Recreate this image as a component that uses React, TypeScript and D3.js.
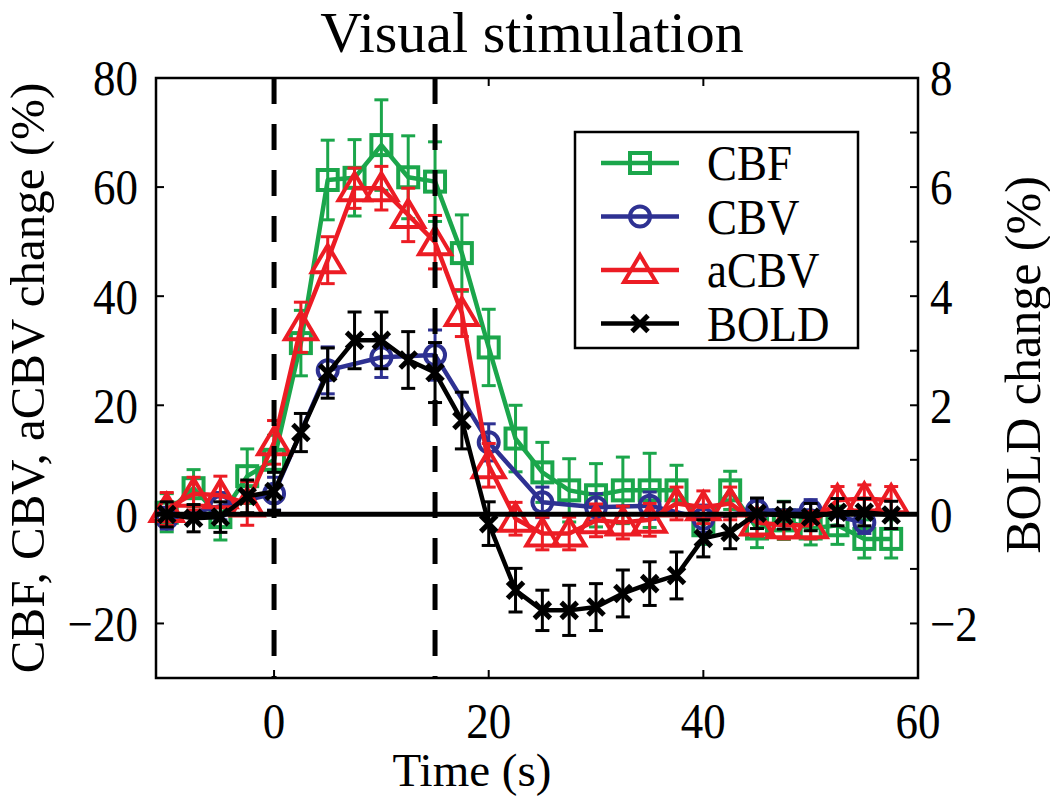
import * as d3 from "d3";

// time points (s)
const timeFast = [-10, -7.5, -5, -2.5, 0, 2.5, 5, 7.5, 10, 12.5, 15, 17.5, 20, 22.5, 25, 27.5, 30, 32.5, 35, 37.5, 40, 42.5, 45, 47.5, 50, 52.5, 55, 57.5];
const timeCBV = [-10, -5, 0, 5, 10, 15, 20, 25, 30, 35, 40, 45, 50, 55];

// left axis series (%)
const cbf = [0.3, 4.8, -0.5, 7, 10, 31.4, 61.3, 61.7, 67.7, 61.8, 61, 47.9, 30.6, 13.9, 7.7, 4.4, 3.5, 4.4, 4.4, 4.4, -2, 4.4, -2.6, -1.1, -2.6, -2, -4.5, -4.5];
const cbfErr = [3.5, 3.4, 4.2, 5, 4.5, 6, 7.3, 7, 8.3, 7.6, 7.3, 7, 7, 6.1, 5.5, 5.8, 5.8, 6.1, 6.8, 4.6, 3.5, 3.5, 3.5, 3.5, 3, 3.5, 3.5, 3.5];
const cbv = [-0.7, 1.5, 3.8, 26.4, 28.8, 29.2, 13.2, 2.2, 1.3, 1.6, -0.8, 0.7, 0.7, -1.5];
const cbvErr = [2, 2.5, 3, 4.3, 3.7, 4.6, 3.4, 2.8, 2.5, 2.5, 2.5, 2, 2, 2];
const acbv = [1, 3.8, 3.5, 2, 13.2, 34.3, 46.6, 59.8, 59.8, 54.9, 49.9, 36.9, 9, -0.8, -3.5, -3.5, -1.1, -1.5, -1, 2, 1.3, 2, -1.5, -2, -2, 2.6, 2.9, 2.6];
const acbvErr = [3, 3, 3.5, 4, 4, 4.6, 4.3, 3.7, 4, 4.9, 4.9, 4.3, 4, 3, 3, 3, 3, 3, 3, 3, 3, 3, 2.5, 2.5, 2.5, 2.5, 2.5, 2.5];

// right axis series (%)
const bold = [0, -0.07, -0.05, 0.33, 0.42, 1.5, 2.59, 3.19, 3.19, 2.83, 2.6, 1.72, -0.17, -1.39, -1.76, -1.76, -1.7, -1.45, -1.27, -1.12, -0.44, -0.33, 0.02, -0.02, -0.05, 0.04, 0.04, -0.01];
const boldErr = [0.23, 0.25, 0.28, 0.3, 0.35, 0.35, 0.46, 0.52, 0.52, 0.52, 0.55, 0.52, 0.4, 0.4, 0.37, 0.46, 0.43, 0.43, 0.4, 0.43, 0.34, 0.3, 0.28, 0.25, 0.25, 0.25, 0.25, 0.25];

const xTicks = [0, 20, 40, 60];
const yLeftTicks = [-20, 0, 20, 40, 60, 80];
const yRightTicks = [-2, 0, 2, 4, 6, 8];
const yRightMinor = [-3, -2, -1, 0, 1, 2, 3, 4, 5, 6, 7, 8];
const stimLines = [0, 15];

const legendNames = ["CBF", "CBV", "aCBV", "BOLD"];
const colours = ["#1ba64b", "#2e3192", "#ec1c24", "#000000"];
const markers = ["square", "circle", "triangle", "x"];

const W = 1050;
const H = 801;
const FONT = "'Liberation Serif', 'Times New Roman', serif";

function Marker({ kind, cx, cy, colour }) {
  if (kind === "square")
    return <rect x={cx - 10} y={cy - 10} width={20} height={20} fill="none" stroke={colour} strokeWidth={4} />;
  if (kind === "circle")
    return <circle cx={cx} cy={cy} r={10} fill="none" stroke={colour} strokeWidth={4} />;
  if (kind === "triangle")
    return (
      <polygon
        points={`${cx},${cy - 15} ${cx + 16},${cy + 12} ${cx - 16},${cy + 12}`}
        fill="none"
        stroke={colour}
        strokeWidth={4}
      />
    );
  return (
    <g stroke={colour} strokeWidth={5}>
      <line x1={cx - 8} y1={cy - 8} x2={cx + 8} y2={cy + 8} />
      <line x1={cx - 8} y1={cy + 8} x2={cx + 8} y2={cy - 8} />
    </g>
  );
}

function Label({ x, y, size, anchor = "middle", sy = 1.12, baseline = "auto", children }) {
  return (
    <text
      transform={`translate(${x},${y}) scale(1,${sy})`}
      fontSize={size}
      textAnchor={anchor}
      dominantBaseline={baseline}
      fontFamily={FONT}
      fill="#000"
    >
      {children}
    </text>
  );
}

export default function App() {
  const x = d3.scaleLinear().domain([-11, 60]).range([156, 918]);
  const yL = d3.scaleLinear().domain([-30, 80]).range([678, 78]);
  const yR = d3.scaleLinear().domain([-3, 8]).range([678, 78]);

  const series = [
    { t: timeFast, v: cbf, e: cbfErr, y: yL },
    { t: timeCBV, v: cbv, e: cbvErr, y: yL },
    { t: timeFast, v: acbv, e: acbvErr, y: yL },
    { t: timeFast, v: bold, e: boldErr, y: yR },
  ];

  const [x0, x1] = x.range();
  const [yb, yt] = yL.range();

  const drawSeries = (s, i) => {
    const pts = s.t.map((t, j) => ({ t, v: s.v[j], e: s.e[j] }));
    const line = d3
      .line()
      .x((d) => x(d.t))
      .y((d) => s.y(d.v));
    return (
      <g key={i}>
        <g stroke={colours[i]} strokeWidth={3}>
          {pts.map((d, j) => {
            const px = x(d.t);
            const top = s.y(d.v + d.e);
            const bot = s.y(d.v - d.e);
            return (
              <g key={j}>
                <line x1={px} x2={px} y1={top} y2={bot} />
                <line x1={px - 7} x2={px + 7} y1={top} y2={top} />
                <line x1={px - 7} x2={px + 7} y1={bot} y2={bot} />
              </g>
            );
          })}
        </g>
        <path d={line(pts)} fill="none" stroke={colours[i]} strokeWidth={4.5} strokeLinejoin="round" />
        {pts.map((d, j) => (
          <Marker key={j} kind={markers[i]} cx={x(d.t)} cy={s.y(d.v)} colour={colours[i]} />
        ))}
      </g>
    );
  };

  const legendX = 575;
  const legendY = 132;
  const rowH = 53.5;

  return (
    <svg
      width={W}
      height={H}
      viewBox={`0 0 ${W} ${H}`}
      style={{ position: "absolute", left: 0, top: 0, background: "#fff" }}
    >
      <rect width={W} height={H} fill="#fff" />

      {series.slice(0, 3).map(drawSeries)}
      <line x1={x0} x2={x1} y1={yL(0)} y2={yL(0)} stroke="#000" strokeWidth={5} />
      {drawSeries(series[3], 3)}

      {stimLines.map((t) => (
        <line
          key={t}
          x1={x(t)}
          x2={x(t)}
          y1={yt}
          y2={yb}
          stroke="#000"
          strokeWidth={5}
          strokeDasharray="26,20"
        />
      ))}

      {/* axes box */}
      <rect x={x0} y={yt} width={x1 - x0} height={yb - yt} fill="none" stroke="#000" strokeWidth={2.5} />
      <g stroke="#000" strokeWidth={2}>
        {xTicks.map((t) => (
          <g key={t}>
            <line x1={x(t)} x2={x(t)} y1={yb} y2={yb - 8} />
            <line x1={x(t)} x2={x(t)} y1={yt} y2={yt + 8} />
          </g>
        ))}
        {yLeftTicks.map((v) => (
          <line key={v} x1={x0} x2={x0 + 8} y1={yL(v)} y2={yL(v)} />
        ))}
        {yRightMinor.map((v) => (
          <line key={v} x1={x1} x2={x1 - 8} y1={yR(v)} y2={yR(v)} />
        ))}
      </g>

      {xTicks.map((t) => (
        <Label key={t} x={x(t)} y={738} size={45}>
          {String(t)}
        </Label>
      ))}
      {yLeftTicks.map((v) => (
        <Label key={v} x={138} y={yL(v)} size={45} anchor="end" baseline="central">
          {v < 0 ? `\u2212${Math.abs(v)}` : String(v)}
        </Label>
      ))}
      {yRightTicks.map((v) => (
        <Label key={v} x={930} y={yR(v)} size={45} anchor="start" baseline="central">
          {v < 0 ? `\u2212${Math.abs(v)}` : String(v)}
        </Label>
      ))}

      <Label x={532} y={52} size={58} sy={1}>
        Visual stimulation
      </Label>
      <Label x={472} y={786} size={47} sy={1}>
        Time (s)
      </Label>
      <text
        transform="translate(44,378) rotate(-90)"
        fontSize={49}
        textAnchor="middle"
        fontFamily={FONT}
      >
        CBF, CBV, aCBV change (%)
      </text>
      <text
        transform="translate(1040,365) rotate(-90)"
        fontSize={50}
        textAnchor="middle"
        fontFamily={FONT}
      >
        BOLD change (%)
      </text>

      {/* legend */}
      <rect x={legendX} y={legendY} width={283} height={216} fill="#fff" stroke="#000" strokeWidth={2.5} />
      {legendNames.map((name, i) => {
        const cy = legendY + 31 + i * rowH;
        return (
          <g key={name}>
            <line x1={601} x2={679} y1={cy} y2={cy} stroke={colours[i]} strokeWidth={4.5} />
            <Marker kind={markers[i]} cx={640} cy={cy} colour={colours[i]} />
            <Label x={707} y={cy} size={45} anchor="start" baseline="central">
              {name}
            </Label>
          </g>
        );
      })}
    </svg>
  );
}
